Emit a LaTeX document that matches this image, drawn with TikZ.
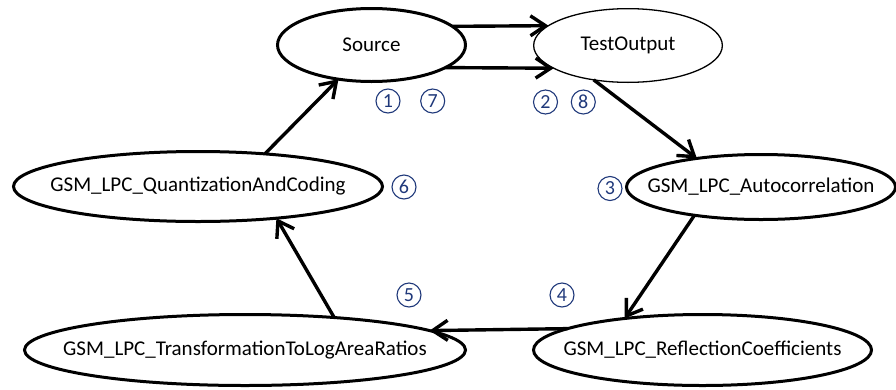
\documentclass[tikz,border=0pt]{standalone}
\usepackage{fontspec}
\setmainfont{Carlito}
\usetikzlibrary{shapes.geometric,arrows.meta}
\definecolor{numblue}{RGB}{31,56,122}
\begin{document}
\begin{tikzpicture}[x=1pt,y=-1pt,
  st/.style={ellipse, draw, line width=3pt, inner sep=0pt, outer sep=0pt,
    font=\fontsize{21}{25}\selectfont},
  thinst/.style={st, line width=1.3pt},
  conn/.style={line width=3.4pt, -{Straight Barb[length=15pt,width=20pt]}},
  num/.style={circle, draw=numblue, text=numblue, line width=1.1pt,
    minimum size=24pt, inner sep=0pt, font=\fontsize{20}{20}\selectfont}]
\useasboundingbox (0,0) rectangle (896,389);
\node[st, minimum width=188pt, minimum height=73pt] (src) at (371.5,45) {\makebox[0pt]{Source}};
\node[thinst, minimum width=188.7pt, minimum height=73.7pt] (tst) at (628,45.5) {\makebox[0pt]{TestOutput}};
\node[st, minimum width=369pt, minimum height=70pt] (qac) at (198,186.5) {\makebox[0pt]{GSM\_LPC\_QuantizationAndCoding}};
\node[st, minimum width=269pt, minimum height=65pt] (acr) at (761,187) {\makebox[0pt]{GSM\_LPC\_Autocorrelation}};
\node[st, minimum width=441pt, minimum height=71pt] (tlr) at (245,350) {\makebox[0pt]{GSM\_LPC\_TransformationToLogAreaRatios}};
\node[st, minimum width=338pt, minimum height=71pt] (rfc) at (702.5,350) {\makebox[0pt]{GSM\_LPC\_ReflectionCoefficients}};

\draw[conn] (src.13.3) -- (tst.166.1);
\draw[conn] (src.-17.6) -- (tst.197.4);
\draw[conn] (tst.225.4) -- (acr.156.4);
\draw[conn] (acr.203.4) -- (rfc.158);
\draw[conn] (rfc.171.6) -- (tlr.6.4);
\draw[conn] (tlr.20.4) -- (qac.-22.3);
\draw[conn] (qac.26.6) -- (src.226.2);

\node[num] (n1) at (388,101) {1};
\node[num] (n7) at (432.7,101) {7};
\node[num] (n2) at (545.5,102) {2};
\node[num] (n8) at (583.3,102) {8};
\node[num] (n3) at (610,188.5) {3};
\node[num] (n6) at (404,187) {6};
\node[num] (n5) at (409,295) {5};
\node[num] (n4) at (562,295) {4};
\end{tikzpicture}
\end{document}
